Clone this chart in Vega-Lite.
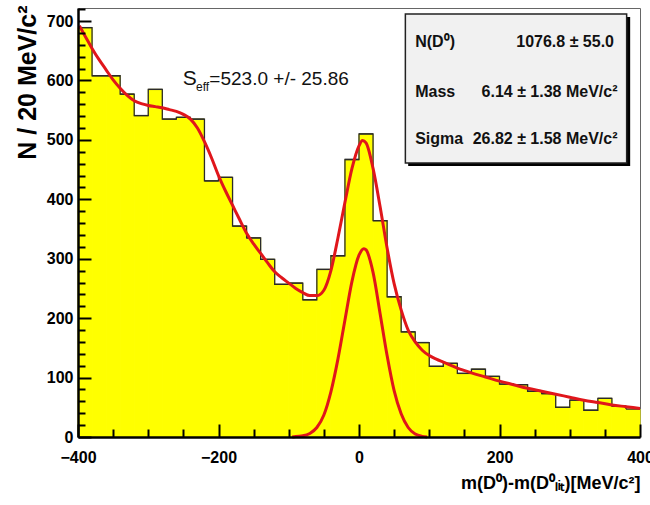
{
  "$schema": "https://vega.github.io/schema/vega-lite/v6.json",
  "width": 562,
  "height": 429,
  "autosize": {"type": "none"},
  "padding": {"left": 78, "top": 8, "right": 10, "bottom": 68},
  "background": "white",
  "config": {
    "view": {"stroke": "#666666", "strokeWidth": 1},
    "font": "Liberation Sans, Arial, sans-serif"
  },
  "datasets": {
    "hist": [
      {"lo": -400, "hi": -380, "n": 689}, {"lo": -380, "hi": -360, "n": 608},
      {"lo": -360, "hi": -340, "n": 608}, {"lo": -340, "hi": -320, "n": 577},
      {"lo": -320, "hi": -300, "n": 541}, {"lo": -300, "hi": -280, "n": 585},
      {"lo": -280, "hi": -260, "n": 535}, {"lo": -260, "hi": -240, "n": 538},
      {"lo": -240, "hi": -220, "n": 535}, {"lo": -220, "hi": -200, "n": 431},
      {"lo": -200, "hi": -180, "n": 437}, {"lo": -180, "hi": -160, "n": 355},
      {"lo": -160, "hi": -140, "n": 335}, {"lo": -140, "hi": -120, "n": 299},
      {"lo": -120, "hi": -100, "n": 257}, {"lo": -100, "hi": -80, "n": 259},
      {"lo": -80, "hi": -60, "n": 231}, {"lo": -60, "hi": -40, "n": 282},
      {"lo": -40, "hi": -20, "n": 305}, {"lo": -20, "hi": 0, "n": 467},
      {"lo": 0, "hi": 20, "n": 510}, {"lo": 20, "hi": 40, "n": 364},
      {"lo": 40, "hi": 60, "n": 236}, {"lo": 60, "hi": 80, "n": 177},
      {"lo": 80, "hi": 100, "n": 159}, {"lo": 100, "hi": 120, "n": 119},
      {"lo": 120, "hi": 140, "n": 124}, {"lo": 140, "hi": 160, "n": 107},
      {"lo": 160, "hi": 180, "n": 114}, {"lo": 180, "hi": 200, "n": 102},
      {"lo": 200, "hi": 220, "n": 89}, {"lo": 220, "hi": 240, "n": 88},
      {"lo": 240, "hi": 260, "n": 77}, {"lo": 260, "hi": 280, "n": 73},
      {"lo": 280, "hi": 300, "n": 50}, {"lo": 300, "hi": 320, "n": 62},
      {"lo": 320, "hi": 340, "n": 45}, {"lo": 340, "hi": 360, "n": 65},
      {"lo": 360, "hi": 380, "n": 52}, {"lo": 380, "hi": 400, "n": 47}
    ],
    "fit": [
      {"x": -398, "y": 692}, {"x": -390, "y": 675}, {"x": -380, "y": 654},
      {"x": -370, "y": 635}, {"x": -360, "y": 618}, {"x": -350, "y": 601},
      {"x": -340, "y": 587}, {"x": -330, "y": 575}, {"x": -320, "y": 566},
      {"x": -310, "y": 561}, {"x": -300, "y": 558}, {"x": -290, "y": 556},
      {"x": -280, "y": 554}, {"x": -270, "y": 551}, {"x": -260, "y": 548},
      {"x": -250, "y": 543}, {"x": -240, "y": 535}, {"x": -230, "y": 520},
      {"x": -220, "y": 497}, {"x": -210, "y": 470}, {"x": -200, "y": 440},
      {"x": -190, "y": 414}, {"x": -180, "y": 390}, {"x": -170, "y": 366},
      {"x": -160, "y": 343}, {"x": -150, "y": 325}, {"x": -140, "y": 309},
      {"x": -130, "y": 293}, {"x": -120, "y": 278}, {"x": -110, "y": 268},
      {"x": -100, "y": 259}, {"x": -90, "y": 250}, {"x": -80, "y": 243},
      {"x": -70, "y": 238}, {"x": -60, "y": 238}, {"x": -50, "y": 247},
      {"x": -40, "y": 280}, {"x": -30, "y": 335}, {"x": -20, "y": 395},
      {"x": -10, "y": 452}, {"x": 0, "y": 490}, {"x": 5, "y": 499},
      {"x": 10, "y": 495}, {"x": 20, "y": 452}, {"x": 30, "y": 388},
      {"x": 40, "y": 318}, {"x": 50, "y": 258}, {"x": 60, "y": 214},
      {"x": 70, "y": 180}, {"x": 80, "y": 160}, {"x": 90, "y": 146},
      {"x": 100, "y": 137}, {"x": 110, "y": 131}, {"x": 120, "y": 126},
      {"x": 140, "y": 116}, {"x": 160, "y": 108}, {"x": 180, "y": 101},
      {"x": 200, "y": 94}, {"x": 220, "y": 88}, {"x": 240, "y": 82},
      {"x": 260, "y": 77}, {"x": 280, "y": 72}, {"x": 300, "y": 67},
      {"x": 320, "y": 62}, {"x": 340, "y": 58}, {"x": 360, "y": 54},
      {"x": 380, "y": 51}, {"x": 400, "y": 48}
    ],
    "sig": [
      {"x": -95, "y": 0}, {"x": -90, "y": 1}, {"x": -80, "y": 2},
      {"x": -70, "y": 6}, {"x": -60, "y": 16}, {"x": -50, "y": 37},
      {"x": -40, "y": 76}, {"x": -30, "y": 131}, {"x": -20, "y": 197},
      {"x": -10, "y": 262}, {"x": 0, "y": 306}, {"x": 7, "y": 317},
      {"x": 10, "y": 315}, {"x": 20, "y": 277}, {"x": 30, "y": 208},
      {"x": 40, "y": 137}, {"x": 50, "y": 78}, {"x": 60, "y": 39},
      {"x": 70, "y": 16}, {"x": 80, "y": 5}, {"x": 90, "y": 1},
      {"x": 97, "y": 0}
    ]
  },
  "layer": [
    {
      "data": {"name": "hist"},
      "mark": {"type": "bar", "fill": "#ffff00", "stroke": "#ffff00", "strokeWidth": 1},
      "encoding": {
        "x": {
          "field": "lo", "type": "quantitative",
          "scale": {"domain": [-400, 400], "nice": false, "zero": false},
          "axis": {
            "orient": "bottom", "zindex": 2,
            "values": [-400, -200, 0, 200, 400],
            "grid": false, "ticks": false,
            "domainColor": "black", "domainWidth": 2.5,
            "labelFontSize": 16, "labelFontWeight": "bold", "labelColor": "black",
            "labelPadding": 12, "labelFlush": false, "labelOverlap": false,
            "title": "m(D⁰)-m(D⁰ₗᵢₜ)[MeV/c²]",
            "titleFontSize": 18, "titleFontWeight": "bold", "titleColor": "black",
            "titleX": 562, "titleY": 51, "titleAlign": "right", "titleBaseline": "alphabetic"
          }
        },
        "x2": {"field": "hi"},
        "y": {
          "field": "n", "type": "quantitative",
          "scale": {"domain": [0, 722], "nice": false, "zero": true},
          "axis": {
            "orient": "left", "zindex": 2,
            "values": [0, 100, 200, 300, 400, 500, 600, 700],
            "grid": false, "ticks": false,
            "domainColor": "black", "domainWidth": 2.5,
            "labelFontSize": 16, "labelFontWeight": "bold", "labelColor": "black",
            "labelPadding": 5, "labelFlush": false, "labelOverlap": false,
            "title": "N / 20 MeV/c²",
            "titleFontSize": 25, "titleFontWeight": "bold", "titleColor": "black",
            "titleAngle": -90, "titleX": -43, "titleY": -3,
            "titleAlign": "right", "titleBaseline": "alphabetic"
          }
        },
        "y2": {"datum": 0}
      }
    },
    {
      "data": {"name": "hist"},
      "mark": {"type": "point", "opacity": 0},
      "encoding": {
        "x": {
          "field": "lo", "type": "quantitative",
          "axis": {
            "orient": "bottom", "zindex": 3, "offset": -13,
            "values": [-400, -200, 0, 200, 400],
            "grid": false, "domain": false, "labels": false, "title": null,
            "tickSize": 13, "tickWidth": 2, "tickColor": "black"
          }
        },
        "y": {
          "field": "n", "type": "quantitative",
          "axis": {
            "orient": "left", "zindex": 3, "offset": -13,
            "values": [0, 100, 200, 300, 400, 500, 600, 700],
            "grid": false, "domain": false, "labels": false, "title": null,
            "tickSize": 13, "tickWidth": 2, "tickColor": "black"
          }
        }
      }
    },
    {
      "data": {"name": "hist"},
      "mark": {"type": "point", "opacity": 0},
      "encoding": {
        "x": {
          "field": "lo", "type": "quantitative",
          "axis": {
            "orient": "bottom", "zindex": 3, "offset": -8,
            "values": [-350, -300, -250, -150, -100, -50, 50, 100, 150, 250, 300, 350],
            "grid": false, "domain": false, "labels": false, "title": null,
            "tickSize": 8, "tickWidth": 2, "tickColor": "black"
          }
        },
        "y": {
          "field": "n", "type": "quantitative",
          "axis": {
            "orient": "left", "zindex": 3, "offset": -7,
            "values": [20, 40, 60, 80, 120, 140, 160, 180, 220, 240, 260, 280, 320, 340, 360, 380, 420, 440, 460, 480, 520, 540, 560, 580, 620, 640, 660, 680, 720],
            "grid": false, "domain": false, "labels": false, "title": null,
            "tickSize": 7, "tickWidth": 2, "tickColor": "black"
          }
        }
      }
    },
    {
      "data": {"name": "hist"},
      "mark": {"type": "line", "interpolate": "step-after", "stroke": "#2b2b2b", "strokeWidth": 1.3},
      "encoding": {
        "x": {"field": "lo", "type": "quantitative", "axis": null},
        "y": {"field": "n", "type": "quantitative", "axis": null}
      }
    },
    {
      "data": {"name": "hist"},
      "mark": {"type": "rule", "stroke": "#2b2b2b", "strokeWidth": 1.3},
      "encoding": {
        "x": {"field": "lo", "type": "quantitative", "axis": null},
        "x2": {"field": "hi"},
        "y": {"field": "n", "type": "quantitative", "axis": null}
      }
    },
    {
      "data": {"name": "sig"},
      "mark": {"type": "line", "interpolate": "monotone", "stroke": "#e0161b", "strokeWidth": 3},
      "encoding": {
        "x": {"field": "x", "type": "quantitative", "axis": null},
        "y": {"field": "y", "type": "quantitative", "axis": null}
      }
    },
    {
      "data": {"name": "fit"},
      "mark": {"type": "line", "interpolate": "monotone", "stroke": "#e0161b", "strokeWidth": 3},
      "encoding": {
        "x": {"field": "x", "type": "quantitative", "axis": null},
        "y": {"field": "y", "type": "quantitative", "axis": null}
      }
    },
    {
      "data": {"values": [{}]},
      "mark": {"type": "rect", "fill": "black"},
      "encoding": {
        "x": {"datum": 70, "type": "quantitative", "axis": null},
        "x2": {"datum": 386},
        "y": {"datum": 707, "type": "quantitative", "axis": null},
        "y2": {"datum": 456}
      }
    },
    {
      "data": {"values": [{}]},
      "mark": {"type": "rect", "fill": "#f1f1f1", "stroke": "#222222", "strokeWidth": 1.5},
      "encoding": {
        "x": {"datum": 66, "type": "quantitative", "axis": null},
        "x2": {"datum": 381},
        "y": {"datum": 712, "type": "quantitative", "axis": null},
        "y2": {"datum": 461}
      }
    },
    {
      "data": {"values": [{}]},
      "mark": {"type": "text", "text": "N(D⁰)", "align": "left", "baseline": "alphabetic", "fontSize": 16, "fontWeight": "bold", "color": "#111111"},
      "encoding": {
        "x": {"datum": 80, "type": "quantitative", "axis": null},
        "y": {"datum": 656, "type": "quantitative", "axis": null}
      }
    },
    {
      "data": {"values": [{}]},
      "mark": {"type": "text", "text": "1076.8 ± 55.0", "align": "right", "baseline": "alphabetic", "fontSize": 16, "fontWeight": "bold", "color": "#111111"},
      "encoding": {
        "x": {"datum": 363, "type": "quantitative", "axis": null},
        "y": {"datum": 656, "type": "quantitative", "axis": null}
      }
    },
    {
      "data": {"values": [{}]},
      "mark": {"type": "text", "text": "Mass", "align": "left", "baseline": "alphabetic", "fontSize": 16, "fontWeight": "bold", "color": "#111111"},
      "encoding": {
        "x": {"datum": 80, "type": "quantitative", "axis": null},
        "y": {"datum": 572, "type": "quantitative", "axis": null}
      }
    },
    {
      "data": {"values": [{}]},
      "mark": {"type": "text", "text": "6.14 ± 1.38 MeV/c²", "align": "right", "baseline": "alphabetic", "fontSize": 16, "fontWeight": "bold", "color": "#111111"},
      "encoding": {
        "x": {"datum": 368, "type": "quantitative", "axis": null},
        "y": {"datum": 572, "type": "quantitative", "axis": null}
      }
    },
    {
      "data": {"values": [{}]},
      "mark": {"type": "text", "text": "Sigma", "align": "left", "baseline": "alphabetic", "fontSize": 16, "fontWeight": "bold", "color": "#111111"},
      "encoding": {
        "x": {"datum": 80, "type": "quantitative", "axis": null},
        "y": {"datum": 493, "type": "quantitative", "axis": null}
      }
    },
    {
      "data": {"values": [{}]},
      "mark": {"type": "text", "text": "26.82 ± 1.58 MeV/c²", "align": "right", "baseline": "alphabetic", "fontSize": 16, "fontWeight": "bold", "color": "#111111"},
      "encoding": {
        "x": {"datum": 368, "type": "quantitative", "axis": null},
        "y": {"datum": 493, "type": "quantitative", "axis": null}
      }
    },
    {
      "data": {"values": [{}]},
      "mark": {"type": "text", "text": "S", "align": "left", "baseline": "alphabetic", "fontSize": 21, "color": "#111111"},
      "encoding": {
        "x": {"datum": -251, "type": "quantitative", "axis": null},
        "y": {"datum": 593, "type": "quantitative", "axis": null}
      }
    },
    {
      "data": {"values": [{}]},
      "mark": {"type": "text", "text": "eff", "align": "left", "baseline": "alphabetic", "fontSize": 12, "color": "#111111"},
      "encoding": {
        "x": {"datum": -232, "type": "quantitative", "axis": null},
        "y": {"datum": 583, "type": "quantitative", "axis": null}
      }
    },
    {
      "data": {"values": [{}]},
      "mark": {"type": "text", "text": "=523.0 +/- 25.86", "align": "left", "baseline": "alphabetic", "fontSize": 19, "color": "#111111"},
      "encoding": {
        "x": {"datum": -213, "type": "quantitative", "axis": null},
        "y": {"datum": 593, "type": "quantitative", "axis": null}
      }
    }
  ],
  "resolve": {"axis": {"x": "independent", "y": "independent"}}
}
